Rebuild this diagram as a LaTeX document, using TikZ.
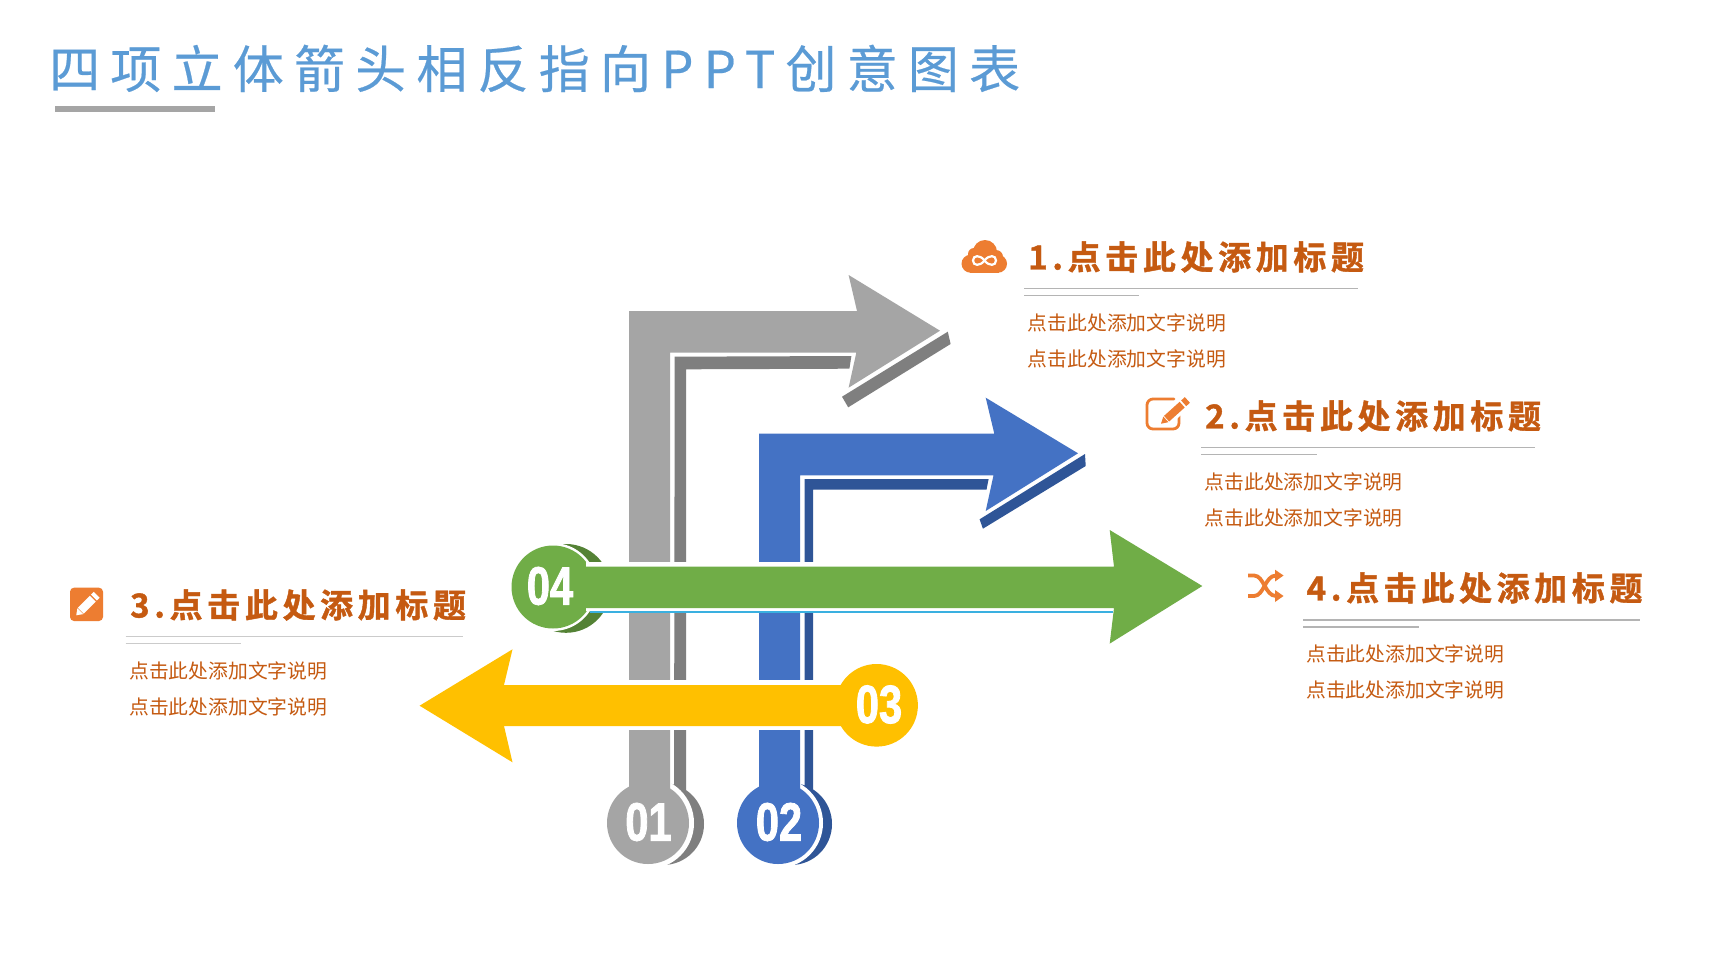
\documentclass[tikz,border=0pt]{standalone}
\usepackage{fontspec}
\newfontfamily\titlefont[LetterSpace=20,FakeBold=0.4]{Noto Sans CJK SC}
\newfontfamily\headfont[LetterSpace=14,BoldFont={Noto Sans CJK SC Bold},BoldFeatures={FakeBold=1.2}]{Noto Sans CJK SC}
\newfontfamily\bodyfont{Noto Sans CJK SC}
\newfontfamily\numfont[FakeStretch=0.77,BoldFeatures={FakeBold=1.5,FakeStretch=0.77}]{Liberation Sans}
\definecolor{gr}{HTML}{A5A5A5}\definecolor{grd}{HTML}{7F7F7F}
\definecolor{bl}{HTML}{4472C4}\definecolor{bld}{HTML}{2F5597}
\definecolor{gn}{HTML}{70AD47}\definecolor{gnd}{HTML}{548235}
\definecolor{yl}{HTML}{FFC000}\definecolor{tx}{HTML}{C55A11}
\definecolor{ic}{HTML}{ED7D31}\definecolor{ttl}{HTML}{5B9BD5}
\definecolor{rl}{HTML}{B4B4B4}\definecolor{cy}{HTML}{3AB0E0}
\tikzset{
 numlabel/.style={text=white,inner sep=0pt,font=\numfont\bfseries\fontsize{54}{54}\selectfont},
 headlabel/.style={text=tx,anchor=west,inner sep=0pt,font=\headfont\bfseries\fontsize{33}{33}\selectfont},
 bodylabel/.style={text=tx,anchor=west,inner sep=0pt,font=\bodyfont\fontsize{19.8}{20}\selectfont},
 rule/.style={draw=rl,line width=1.2pt}
}
\begin{document}
\begin{tikzpicture}[x=1pt,y=-1pt]
\useasboundingbox (0,0) rectangle (1728,972);
\fill[white] (0,0) rectangle (1728,972);
% title
\node[anchor=west,inner sep=0pt,text=ttl,font=\titlefont\fontsize{51}{51}\selectfont] (title) at (49,68.5) {四项立体箭头相反指向PPT创意图表};
\fill[gr] (55,106) rectangle (215,112);
% gray arrow
\fill[grd] (674.7,356.7) -- (851.4,356) -- (849.4,368.7) -- (686,369.3) -- (686,823) -- (674,823) -- cycle;
\fill[grd] (842,396.7) -- (947.8,331.7) -- (950.6,344) -- (848.2,407.3) -- cycle;
\fill[grd] (663,824) circle (41);
\fill[white] (648,823) circle (46);
\fill[gr] (629,823) -- (629,311) -- (857,311) -- (848.6,275) -- (940,330.7) -- (848.6,387.7) -- (856.3,352.7) -- (670,352.7) -- (670,823) -- cycle;
\fill[gr] (648,823) circle (41);
% blue arrow
\fill[bld] (804.5,479) -- (988.6,479) -- (986.5,489.7) -- (813,489.7) -- (813,823) -- (804.5,823) -- cycle;
\fill[bld] (979.6,519.3) -- (1085,454) -- (1085.7,466) -- (982.9,528.7) -- cycle;
\fill[bld] (791,824) circle (41);
\fill[white] (778,823) circle (45);
\fill[bl] (759,823) -- (759,433.7) -- (994.3,433.7) -- (985.7,397.7) -- (1078,453.3) -- (985.7,511) -- (993.5,475.3) -- (800,475.3) -- (800,823) -- cycle;
\fill[bl] (778,823) circle (41);
% gaps
\fill[white] (606,562) rectangle (1112,612);
\fill[white] (606,680) rectangle (840,730);
% green arrow
\fill[gnd] (566,588.4) circle (44.4);
\fill[white] (553,587) circle (44);
\draw[cy,line width=1.2pt] (590,612) -- (1113,612);
\fill[gn] (553,587) circle (41.5);
\fill[white] (586,562) rectangle (612,566.7);
\fill[white] (586,608) rectangle (612,611.4);
\fill[gn] (585,566.7) -- (1114,566.7) -- (1109.7,530) -- (1202.3,586) -- (1109.7,643.6) -- (1114,608) -- (585,608) -- cycle;
% yellow arrow
\fill[yl] (876.6,705.3) circle (41.3);
\fill[yl] (860,685) -- (504,685) -- (512.5,649.3) -- (419.6,705.7) -- (512.5,762.3) -- (504,726) -- (860,726) -- cycle;
% numbers
\node[numlabel] (n1) at (648.5,822) {01};
\node[numlabel] (n2) at (779,822) {02};
\node[numlabel] (n3) at (879,704.5) {03};
\node[numlabel] (n4) at (550,586) {04};
% heading 1
\node[headlabel] (h1) at (1028,257) {1.点击此处添加标题};
\draw[rule] (1024,288.3) -- (1358,288.3);
\draw[rule] (1024,295.3) -- (1139,295.3);
\node[bodylabel] (b1a) at (1027.7,322.7) {点击此处添加文字说明};
\node[bodylabel] (b1b) at (1027.7,358.7) {点击此处添加文字说明};
% heading 2
\node[headlabel] (h2) at (1205,416) {2.点击此处添加标题};
\draw[rule] (1201,447.3) -- (1535,447.3);
\draw[rule] (1201,454.7) -- (1317,454.7);
\node[bodylabel] (b2a) at (1204.5,481.6) {点击此处添加文字说明};
\node[bodylabel] (b2b) at (1204.5,517.6) {点击此处添加文字说明};
% heading 3
\node[headlabel] (h3) at (130,605) {3.点击此处添加标题};
\draw[rule,draw=rl!70] (125.7,636.7) -- (463,636.7);
\draw[rule,draw=rl!70] (125.7,643.7) -- (241,643.7);
\node[bodylabel] (b3a) at (129,671) {点击此处添加文字说明};
\node[bodylabel] (b3b) at (129,707) {点击此处添加文字说明};
% heading 4
\node[headlabel] (h4) at (1306.5,588) {4.点击此处添加标题};
\draw[rule] (1303.3,620) -- (1640,620);
\draw[rule] (1303.3,627) -- (1419,627);
\node[bodylabel] (b4a) at (1306,653.5) {点击此处添加文字说明};
\node[bodylabel] (b4b) at (1306,689.5) {点击此处添加文字说明};
% icon 1: cloud
\fill[ic] (970,256) rectangle (999,272.7);
\fill[ic] (970.5,263.7) circle (9);
\fill[ic] (998,263.7) circle (9);
\fill[ic] (974,254) circle (6);
\fill[ic] (985,252) circle (12);
\fill[ic] (996,257) circle (7);
\draw[white,line width=2.2pt] (984.5,260.5) .. controls (980,254.5) and (973,255) .. (973,260.5) .. controls (973,266) and (980,266.5) .. (984.5,260.5) .. controls (989,254.5) and (996,255) .. (996,260.5) .. controls (996,266) and (989,266.5) .. (984.5,260.5) -- cycle;
% icon 2: note and pencil
\draw[ic,line width=2.8pt,line cap=round,rounded corners=6pt] (1174,399) -- (1147,399) -- (1147,429) -- (1179,429) -- (1179,414);
\begin{scope}[shift={(1174,412)},rotate=-138]
\fill[white] (-20,-7) rectangle (13,7);
\fill[ic] (-11,-3.8) rectangle (10,3.8);
\fill[ic] (-18,-3.8) rectangle (-13,3.8);
\fill[ic] (11,-3.8) -- (17.5,0) -- (11,3.8) -- cycle;
\end{scope}
% icon 3: filled square and pencil
\fill[ic,rounded corners=4pt] (70,587.7) rectangle (103,621);
\begin{scope}[shift={(86.5,605)},rotate=-135]
\fill[white] (-9,-4.2) rectangle (8,4.2);
\fill[white] (-14.5,-4.2) rectangle (-10.5,4.2);
\fill[white] (8.7,-4.2) -- (14.5,0) -- (8.7,4.2) -- cycle;
\end{scope}
% icon 4: shuffle
\draw[ic,line width=3.8pt] (1248,575.5) -- (1254,575.5) .. controls (1264,575.5) and (1265,596) .. (1276,596) -- (1278,596);
\draw[ic,line width=3.8pt] (1248,596) -- (1254,596) .. controls (1264,596) and (1265,575.5) .. (1276,575.5) -- (1278,575.5);
\fill[ic] (1275,569.7) -- (1283.5,575.5) -- (1275,581.5) -- cycle;
\fill[ic] (1275,590) -- (1283.5,596) -- (1275,602) -- cycle;
\end{tikzpicture}
\end{document}
